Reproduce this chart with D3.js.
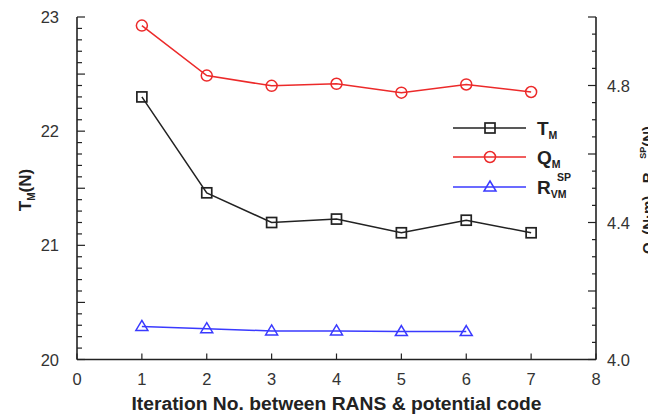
<!DOCTYPE html>
<html>
<head>
<meta charset="utf-8">
<script src="https://cdn.jsdelivr.net/npm/d3@7"></script>
<style>
  html, body { margin: 0; padding: 0; background: #fff; }
  svg { display: block; font-family: "Liberation Sans", Arial, sans-serif; }
</style>
</head>
<body>
<svg id="chart" width="648" height="414"></svg>
<script>
// ---- data ----
const iterations = [1, 2, 3, 4, 5, 6, 7];
const tmValues = [22.30, 21.46, 21.20, 21.23, 21.11, 21.22, 21.11];
const qmValues = [4.975, 4.829, 4.799, 4.805, 4.779, 4.803, 4.781];
const rIterations = [1, 2, 3, 4, 5, 6];
const rValues = [20.29, 20.27, 20.25, 20.25, 20.245, 20.245];
const xTickLabels = [0, 1, 2, 3, 4, 5, 6, 7, 8];
const leftTickLabels = [20, 21, 22, 23];
const rightTickLabels = [4.0, 4.4, 4.8];

// ---- layout ----
const svg = d3.select("#chart");
const L = 77, R = 596, T = 17, B = 359.5;
const x = d3.scaleLinear().domain([0, 8]).range([L, R]);
const yL = d3.scaleLinear().domain([20, 23]).range([B, T]);
const yR = d3.scaleLinear().domain([4.0, 5.0]).range([B, T]);
const axisColor = "#222";
const textColor = "#333";
const tickFont = 16.5;

// left axis
const gl = svg.append("g");
gl.append("line").attr("x1", L).attr("x2", L).attr("y1", T).attr("y2", B).attr("stroke", axisColor).attr("stroke-width", 1.6);
d3.range(0, 31).forEach(i => {
  const v = 20 + i * 0.1;
  const major = i % 5 === 0;
  gl.append("line").attr("x1", L).attr("x2", L + (major ? 8 : 5))
    .attr("y1", yL(v)).attr("y2", yL(v)).attr("stroke", axisColor).attr("stroke-width", 1.2);
});
leftTickLabels.forEach(v => {
  gl.append("text").attr("x", L - 18).attr("y", yL(v) + 6).attr("text-anchor", "end")
    .attr("font-size", tickFont).attr("fill", textColor).text(v);
});

// right axis
const gr = svg.append("g");
gr.append("line").attr("x1", R).attr("x2", R).attr("y1", T).attr("y2", B).attr("stroke", axisColor).attr("stroke-width", 1.6);
d3.range(0, 21).forEach(i => {
  const v = 4.0 + i * 0.05;
  const major = i % 4 === 0;
  gr.append("line").attr("x1", R).attr("x2", R - (major ? 8 : 4))
    .attr("y1", yR(v)).attr("y2", yR(v)).attr("stroke", axisColor).attr("stroke-width", 1.2);
});
rightTickLabels.forEach(v => {
  gr.append("text").attr("x", R + 11).attr("y", yR(v) + 6).attr("text-anchor", "start")
    .attr("font-size", tickFont).attr("fill", textColor).text(v.toFixed(1));
});

// bottom axis
const gb = svg.append("g");
gb.append("line").attr("x1", L).attr("x2", R).attr("y1", B).attr("y2", B).attr("stroke", axisColor).attr("stroke-width", 1.6);
xTickLabels.forEach(v => {
  gb.append("line").attr("x1", x(v)).attr("x2", x(v)).attr("y1", B).attr("y2", B - 6)
    .attr("stroke", axisColor).attr("stroke-width", 1.2);
  gb.append("text").attr("x", x(v)).attr("y", B + 25).attr("text-anchor", "middle")
    .attr("font-size", tickFont).attr("fill", textColor).text(v);
});

// axis titles
svg.append("text").attr("x", 336.5).attr("y", 410).attr("text-anchor", "middle")
  .attr("font-size", 17.5).attr("font-weight", "bold").attr("fill", "#222")
  .attr("textLength", 410).attr("lengthAdjust", "spacingAndGlyphs")
  .text("Iteration No. between RANS & potential code");

const lt = svg.append("text").attr("transform", "translate(31,190) rotate(-90)")
  .attr("text-anchor", "middle").attr("font-size", 17).attr("font-weight", "bold").attr("fill", "#222");
lt.append("tspan").text("T");
lt.append("tspan").attr("font-size", 10).attr("dy", 4).text("M");
lt.append("tspan").attr("dy", -4).text("(N)");

const rt = svg.append("text").attr("transform", "translate(653,190) rotate(-90)")
  .attr("text-anchor", "middle").attr("font-size", 15).attr("font-weight", "bold").attr("fill", "#222");
rt.append("tspan").text("Q");
rt.append("tspan").attr("font-size", 9).attr("dy", 4).text("M");
rt.append("tspan").attr("dy", -4).text("(N·m) , R");
rt.append("tspan").attr("font-size", 9).attr("dy", 4).text("VM");
rt.append("tspan").attr("font-size", 9).attr("dy", -11).text("SP");
rt.append("tspan").attr("dy", 7).text("(N)");

// ---- series ----
const colT = "#222", colQ = "#ec2a2a", colR = "#3a3aff";

function drawSquare(g, cx, cy, col) {
  g.append("rect").attr("x", cx - 5).attr("y", cy - 5).attr("width", 10).attr("height", 10)
    .attr("fill", "none").attr("stroke", col).attr("stroke-width", 1.7);
}
function drawCircle(g, cx, cy, col) {
  g.append("circle").attr("cx", cx).attr("cy", cy).attr("r", 5.5)
    .attr("fill", "none").attr("stroke", col).attr("stroke-width", 1.5);
}
function drawTri(g, cx, cy, col) {
  g.append("path").attr("d", `M${cx},${cy - 6}L${cx + 6},${cy + 4}L${cx - 6},${cy + 4}Z`)
    .attr("fill", "none").attr("stroke", col).attr("stroke-width", 1.5);
}

const gs = svg.append("g");
const lineT = d3.line().x((d, i) => x(iterations[i])).y(d => yL(d));
const lineQ = d3.line().x((d, i) => x(iterations[i])).y(d => yR(d));
const lineR = d3.line().x((d, i) => x(rIterations[i])).y(d => yL(d));

gs.append("path").attr("d", lineR(rValues)).attr("fill", "none").attr("stroke", colR).attr("stroke-width", 1.5);
gs.append("path").attr("d", lineQ(qmValues)).attr("fill", "none").attr("stroke", colQ).attr("stroke-width", 1.5);
gs.append("path").attr("d", lineT(tmValues)).attr("fill", "none").attr("stroke", colT).attr("stroke-width", 1.5);

rValues.forEach((v, i) => drawTri(gs, x(rIterations[i]), yL(v), colR));
qmValues.forEach((v, i) => drawCircle(gs, x(iterations[i]), yR(v), colQ));
tmValues.forEach((v, i) => drawSquare(gs, x(iterations[i]), yL(v), colT));

// ---- legend ----
const lg = svg.append("g");
const legendItems = [
  { y: 128, col: colT, draw: drawSquare, main: "T", sub: "M", sup: null },
  { y: 157, col: colQ, draw: drawCircle, main: "Q", sub: "M", sup: null },
  { y: 187, col: colR, draw: drawTri, main: "R", sub: "VM", sup: "SP" }
];
legendItems.forEach(it => {
  lg.append("line").attr("x1", 453).attr("x2", 526).attr("y1", it.y).attr("y2", it.y)
    .attr("stroke", it.col).attr("stroke-width", 1.5);
  it.draw(lg, 490, it.y, it.col);
  const t = lg.append("text").attr("x", 537).attr("y", it.y + 7)
    .attr("font-size", 19).attr("font-weight", "bold").attr("fill", "#222");
  t.append("tspan").text(it.main);
  t.append("tspan").attr("font-size", 10.5).attr("dy", 4).text(it.sub);
  if (it.sup) {
    lg.append("text").attr("x", 557).attr("y", it.y - 6)
      .attr("font-size", 10.5).attr("font-weight", "bold").attr("fill", "#222").text(it.sup);
  }
});
</script>
</body>
</html>
